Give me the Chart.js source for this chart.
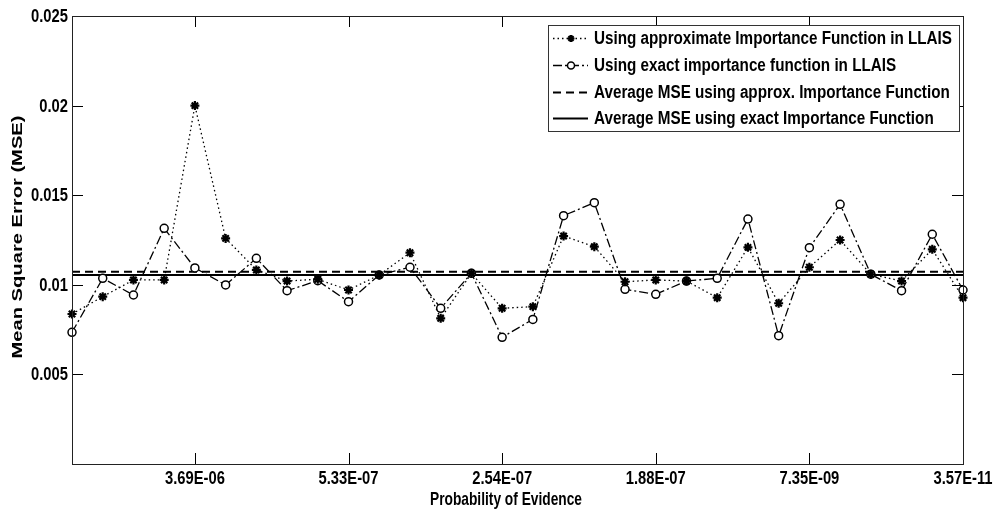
<!DOCTYPE html>
<html>
<head>
<meta charset="utf-8">
<script src="https://cdn.jsdelivr.net/npm/chart.js@4.4.0/dist/chart.umd.min.js"></script>
<style>
  html, body { margin: 0; padding: 0; background: #fff; }
  #wrap { width: 995px; height: 514px; position: relative; }
</style>
</head>
<body>
<div id="wrap"><canvas id="mseChart" width="995" height="514"></canvas></div>
<script>
// values, one per test case (30 cases)
const approxMSE = [0.00837, 0.00934, 0.01027, 0.01027, 0.0200, 0.01259, 0.01083, 0.01021, 0.01031, 0.00971,
                   0.01055, 0.01179, 0.00813, 0.01064, 0.00869, 0.00878, 0.01272, 0.01213, 0.01017, 0.01027,
                   0.01021, 0.00928, 0.01209, 0.00897, 0.01098, 0.01250, 0.01059, 0.01021, 0.01198, 0.00928];
const exactMSE = [0.00735, 0.01036, 0.00943, 0.01315, 0.01094, 0.00999, 0.01148, 0.00967, 0.01023, 0.00906,
                  0.01055, 0.01098, 0.00869, 0.01064, 0.00707, 0.00807, 0.01386, 0.01458, 0.00975, 0.00947,
                  0.01021, 0.01036, 0.01367, 0.00716, 0.01207, 0.01449, 0.01059, 0.00967, 0.01282, 0.00971];
const avgApprox = 0.01073;
const avgExact = 0.01054;

// x tick labels and the case index they sit on
const tickLabels = ['3.69E-06', '5.33E-07', '2.54E-07', '1.88E-07', '7.35E-09', '3.57E-11'];
const tickIndex = [4, 9, 14, 19, 24, 29];
const yTicks = [0.005, 0.01, 0.015, 0.02, 0.025];

const legendLabels = [
    'Using approximate Importance Function in LLAIS',
    'Using exact importance function in LLAIS',
    'Average MSE using approx. Importance Function',
    'Average MSE using exact Importance Function'
];
const xTitle = 'Probability of Evidence';
const yTitle = 'Mean Square Error (MSE)';

const sans = "'Liberation Sans', Arial, sans-serif";
const NARROW = 0.82;   // no arial narrow installed, squeeze arial instead

function squeezed(ctx, text, x, y, font, sx, align, angle) {
    ctx.save();
    ctx.translate(x, y);
    ctx.rotate(angle || 0);
    ctx.scale(sx, 1);
    ctx.font = font;
    ctx.textAlign = align || 'center';
    ctx.textBaseline = 'middle';
    ctx.fillStyle = '#000';
    ctx.fillText(text, 0, 0);
    ctx.restore();
}

function fitTo(ctx, text, font, len) {
    ctx.save();
    ctx.font = font;
    const w = ctx.measureText(text).width;
    ctx.restore();
    return len / w;
}

// frame, inward tick marks, tick labels and axis titles, like the matlab axes
const axesBox = {
    id: 'axesBox',
    afterDatasetsDraw(chart) {
        const { ctx, chartArea: a, scales: { x, y } } = chart;
        ctx.save();
        ctx.strokeStyle = '#000';
        ctx.lineWidth = 1;
        ctx.beginPath();
        tickIndex.forEach(i => {
            const px = Math.round(x.getPixelForValue(i)) + 0.5;
            ctx.moveTo(px, a.bottom); ctx.lineTo(px, a.bottom - 11);
            ctx.moveTo(px, a.top); ctx.lineTo(px, a.top + 11);
        });
        yTicks.forEach(v => {
            const py = Math.round(y.getPixelForValue(v)) + 0.5;
            ctx.moveTo(a.left, py); ctx.lineTo(a.left + 11, py);
            ctx.moveTo(a.right, py); ctx.lineTo(a.right - 11, py);
        });
        ctx.stroke();
        ctx.strokeStyle = '#222';
        ctx.strokeRect(Math.round(a.left) + 0.5, Math.round(a.top) + 0.5,
                       Math.round(a.right - a.left), Math.round(a.bottom - a.top));
        ctx.restore();

        const tickFont = 'bold 18px ' + sans;
        tickIndex.forEach((i, k) => {
            squeezed(ctx, tickLabels[k], x.getPixelForValue(i), a.bottom + 15, tickFont, NARROW);
        });
        yTicks.forEach(v => {
            squeezed(ctx, String(v), a.left - 4, y.getPixelForValue(v) + 1, tickFont, NARROW, 'right');
        });

        const xf = 'bold 19px ' + sans;
        squeezed(ctx, xTitle, 506, 500, xf, fitTo(ctx, xTitle, xf, 152));
        const yf = 'bold 15px ' + sans;
        squeezed(ctx, yTitle, 18, 237, yf, fitTo(ctx, yTitle, yf, 243), 'center', -Math.PI / 2);
    }
};

// legend box drawn inside the plot, top right
const boxLegend = {
    id: 'boxLegend',
    afterDraw(chart) {
        const { ctx } = chart;
        const left = 548, top = 25, w = 411, h = 106, rowH = 26.8, firstRow = 38;
        ctx.save();
        ctx.fillStyle = '#fff';
        ctx.fillRect(left, top, w, h);
        ctx.strokeStyle = '#333';
        ctx.lineWidth = 1;
        ctx.strokeRect(left + 0.5, top + 0.5, w, h);

        const font = 'bold 18px ' + sans;
        const sx = fitTo(ctx, legendLabels[0], font, 358);

        chart.data.datasets.forEach((ds, i) => {
            const cy = Math.round(firstRow + i * rowH) + 0.5;
            ctx.strokeStyle = '#000';
            ctx.lineWidth = ds.borderWidth;
            ctx.setLineDash(ds.borderDash || []);
            ctx.beginPath();
            ctx.moveTo(left + 5, cy);
            ctx.lineTo(left + 40, cy);
            ctx.stroke();
            ctx.setLineDash([]);
            if (ds.pointRadius > 0) {
                ctx.fillStyle = ds.pointBackgroundColor;
                ctx.strokeStyle = '#000';
                ctx.lineWidth = ds.pointBorderWidth;
                Chart.helpers.drawPoint(ctx, {
                    pointStyle: ds.pointStyle,
                    radius: 3.5,
                    borderWidth: ds.pointBorderWidth
                }, left + 23, cy);
            }
            squeezed(ctx, ds.label, left + 46, cy + 1, font, sx, 'left');
        });
        ctx.restore();
    }
};

const ctx = document.getElementById('mseChart').getContext('2d');
new Chart(ctx, {
    type: 'line',
    data: {
        labels: approxMSE.map((_, i) => i),
        datasets: [{
            label: legendLabels[0],
            data: approxMSE,
            borderColor: '#000',
            borderWidth: 1.3,
            borderDash: [1.5, 3],
            pointStyle: 'star',
            pointRadius: 4.5,
            pointBorderWidth: 2.2,
            pointBackgroundColor: '#000',
            pointBorderColor: '#000',
            tension: 0
        }, {
            label: legendLabels[1],
            data: exactMSE,
            borderColor: '#000',
            borderWidth: 1.3,
            borderDash: [9, 3, 2, 3],
            pointStyle: 'circle',
            pointRadius: 4,
            pointBorderWidth: 1.5,
            pointBackgroundColor: '#fff',
            pointBorderColor: '#000',
            tension: 0
        }, {
            label: legendLabels[2],
            data: [{ x: 0, y: avgApprox }, { x: approxMSE.length - 1, y: avgApprox }],
            borderColor: '#000',
            borderWidth: 2,
            borderDash: [8, 5],
            pointRadius: 0
        }, {
            label: legendLabels[3],
            data: [{ x: 0, y: avgExact }, { x: exactMSE.length - 1, y: avgExact }],
            borderColor: '#000',
            borderWidth: 2,
            pointRadius: 0
        }]
    },
    options: {
        responsive: false,
        animation: false,
        layout: { padding: { top: 16, right: 32, left: 0, bottom: 0 } },
        plugins: {
            legend: { display: false },
            tooltip: { enabled: false }
        },
        scales: {
            x: {
                type: 'category',
                offset: false,
                grid: { display: false, drawTicks: false },
                border: { display: false },
                ticks: { display: false },
                afterFit: s => { s.height = 50; s.paddingLeft = 0; s.paddingRight = 0; }
            },
            y: {
                min: 0,
                max: 0.025,
                grid: { display: false, drawTicks: false },
                border: { display: false },
                ticks: { display: false, stepSize: 0.005 },
                afterFit: s => { s.width = 72; s.paddingTop = 0; s.paddingBottom = 0; }
            }
        }
    },
    plugins: [axesBox, boxLegend]
});
</script>
</body>
</html>
